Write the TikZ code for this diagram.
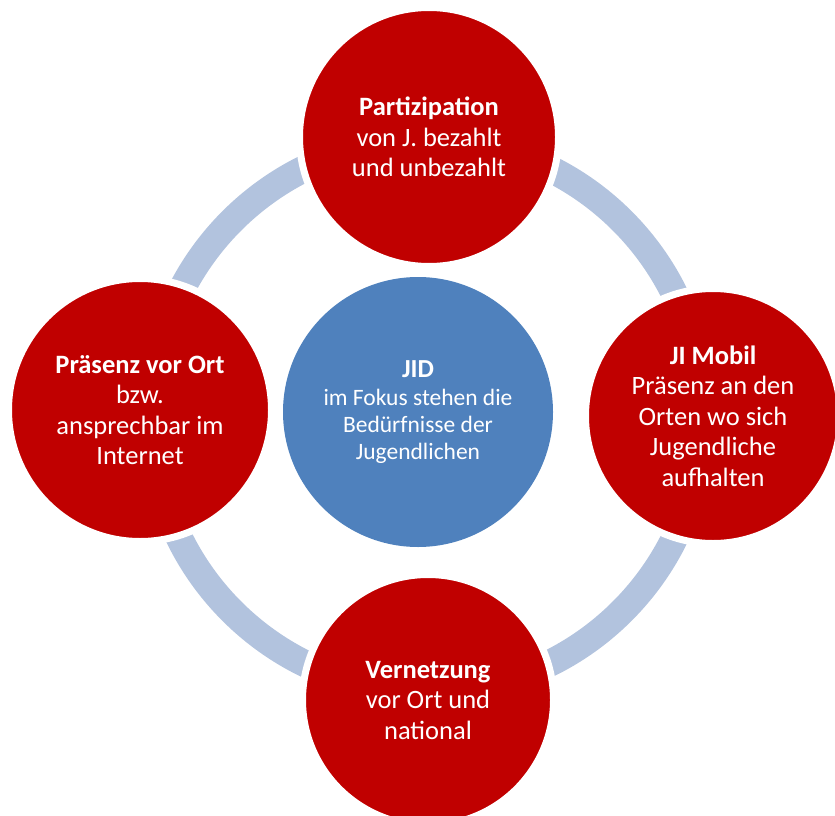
\documentclass[tikz,border=0pt]{standalone}
\usepackage{fontspec}
\setmainfont{Carlito}
\definecolor{jred}{RGB}{192,0,0}
\definecolor{jblue}{RGB}{79,129,189}
\definecolor{jring}{RGB}{178,195,222}
\begin{document}
\begin{tikzpicture}[x=1pt,y=-1pt,
  redball/.style={circle, fill=jred, draw=white, line width=7pt, inner sep=0pt,
    text=white, align=center, font=\fontsize{26.5}{30.5}\selectfont},
  blueball/.style={circle, fill=jblue, inner sep=0pt, minimum size=270pt,
    text=white, align=center, font=\fontsize{23.5}{27}\selectfont},
  ringline/.style={draw=jring, line width=27pt}]
\useasboundingbox (0,0) rectangle (835,816);
\coordinate (ringc) at (427,416);
\draw[ringline] (ringc) circle (276pt);
\node[blueball] (jid) at (418,412) {{\fontsize{26}{30}\selectfont\bfseries JID}\\[1pt]im Fokus stehen die\\Bedürfnisse der\\Jugendlichen};
\node[redball, minimum size=259pt] (top) at (429,137) {\textbf{Partizipation}\\von J. bezahlt\\und unbezahlt};
\node[redball, minimum size=263pt] (left) at (140,410) {\textbf{Präsenz vor Ort}\\bzw.\\ansprechbar im\\Internet};
\node[redball, minimum size=255pt] (right) at (713,416) {\textbf{JI Mobil}\\Präsenz an den\\Orten wo sich\\Jugendliche\\aufhalten};
\node[redball, minimum size=251pt] (bottom) at (428,700) {\textbf{Vernetzung}\\vor Ort und\\national};
\end{tikzpicture}
\end{document}
